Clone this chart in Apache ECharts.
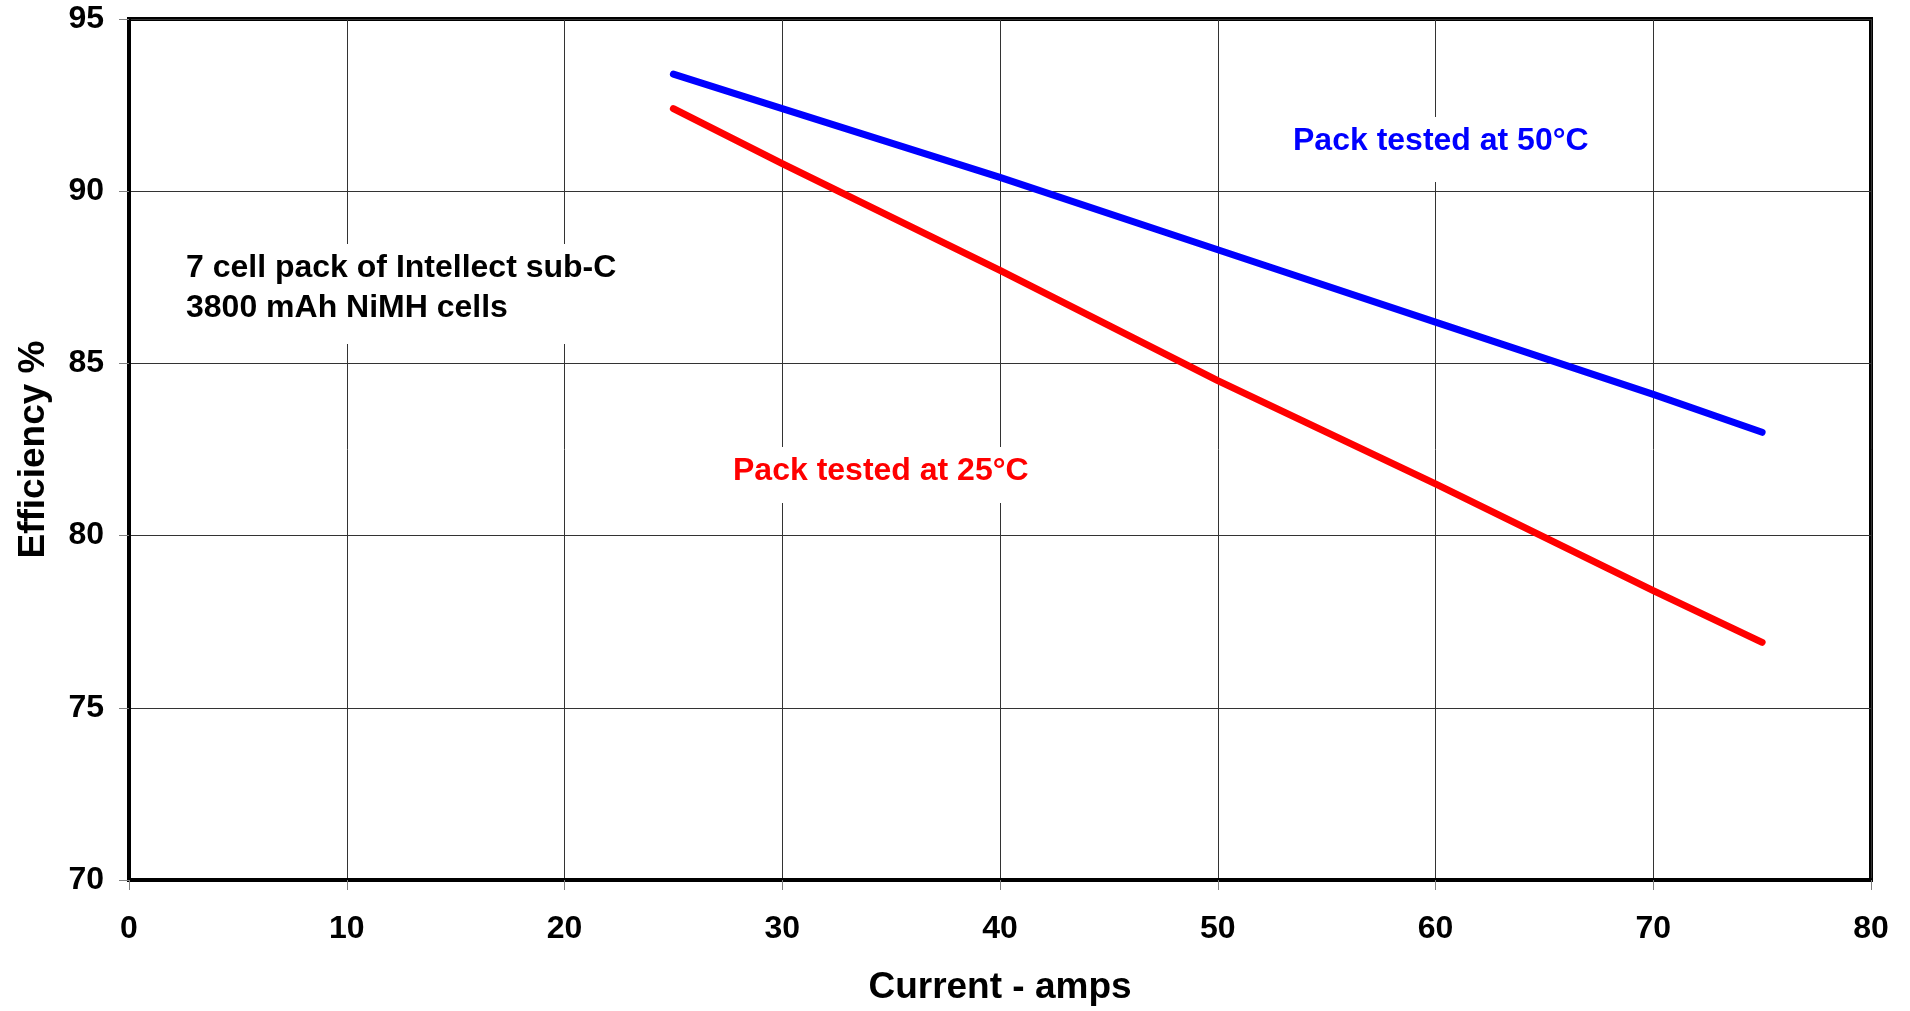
<!DOCTYPE html>
<html>
<head>
<meta charset="utf-8">
<script src="https://cdn.jsdelivr.net/npm/echarts@6/dist/echarts.min.js"></script>
<style>
html,body{margin:0;padding:0;background:#fff;}
#chart{width:1910px;height:1011px;}
</style>
</head>
<body>
<div id="chart"></div>
<script>
// Data
const currentAmps = [25, 30, 40, 50, 60, 70, 75];
const eff50C = [93.4, 92.4, 90.4, 88.3, 86.2, 84.1, 83.0];
const eff25C = [92.4, 90.8, 87.7, 84.5, 81.5, 78.4, 76.9];
const xTicks = [0, 10, 20, 30, 40, 50, 60, 70, 80];
const yTicks = [70, 75, 80, 85, 90, 95];
const seriesNames = ['Pack tested at 50°C', 'Pack tested at 25°C'];
const noteText = ['7 cell pack of Intellect sub-C', '3800 mAh NiMH cells'];

const FONT = '"Liberation Sans", Arial, sans-serif';
const chart = echarts.init(document.getElementById('chart'), null, {renderer: 'canvas'});

function pairs(xs, ys) { return xs.map((x, i) => [x, ys[i]]); }

chart.setOption({
  animation: false,
  backgroundColor: '#ffffff',
  grid: {
    left: 129, top: 19, width: 1742, height: 862,
    show: true, borderColor: '#000', borderWidth: 4, backgroundColor: 'transparent'
  },
  xAxis: {
    type: 'value', min: xTicks[0], max: xTicks[xTicks.length - 1], interval: 10,
    name: 'Current - amps', nameLocation: 'middle', nameGap: 89,
    nameTextStyle: {fontFamily: FONT, fontWeight: 'bold', fontSize: 37, color: '#000'},
    axisLine: {show: true, onZero: false, lineStyle: {color: '#000', width: 4}},
    axisTick: {show: true, length: 10, lineStyle: {color: '#808080', width: 1}},
    axisLabel: {margin: 33, fontFamily: FONT, fontWeight: 'bold', fontSize: 32, color: '#000'},
    splitLine: {show: true, lineStyle: {color: '#333', width: 1}}
  },
  yAxis: {
    type: 'value', min: yTicks[0], max: yTicks[yTicks.length - 1], interval: 5,
    name: 'Efficiency %', nameLocation: 'middle', nameGap: 77,
    nameTextStyle: {fontFamily: FONT, fontWeight: 'bold', fontSize: 37, color: '#000'},
    axisLine: {show: true, onZero: false, lineStyle: {color: '#000', width: 4}},
    axisTick: {show: true, length: 10, lineStyle: {color: '#808080', width: 1}},
    axisLabel: {margin: 25, fontFamily: FONT, fontWeight: 'bold', fontSize: 32, color: '#000'},
    splitLine: {show: true, lineStyle: {color: '#333', width: 1}}
  },
  series: [
    {
      name: seriesNames[0], type: 'line', data: pairs(currentAmps, eff50C),
      symbol: 'none', smooth: false, z: 5,
      lineStyle: {color: '#0000ff', width: 7, cap: 'round', join: 'round'}
    },
    {
      name: seriesNames[1], type: 'line', data: pairs(currentAmps, eff25C),
      symbol: 'none', smooth: false, z: 5,
      lineStyle: {color: '#ff0000', width: 7, cap: 'round', join: 'round'}
    }
  ],
  graphic: [
    {
      type: 'text', z: 10,
      style: {
        x: 176, y: 244, text: noteText.join('\n'),
        font: 'bold 32px ' + FONT, fill: '#000', lineHeight: 40,
        backgroundColor: '#fff', padding: [4, 10, 16, 10],
        align: 'left', verticalAlign: 'top'
      }
    },
    {
      type: 'text', z: 10,
      style: {
        x: 725, y: 447, text: seriesNames[1],
        font: 'bold 32px ' + FONT, fill: '#ff0000', lineHeight: 32,
        backgroundColor: '#fff', padding: [8, 8, 16, 8],
        align: 'left', verticalAlign: 'top'
      }
    },
    {
      type: 'text', z: 10,
      style: {
        x: 1285, y: 117, text: seriesNames[0],
        font: 'bold 32px ' + FONT, fill: '#0000ff', lineHeight: 32,
        backgroundColor: '#fff', padding: [8, 8, 25, 8],
        align: 'left', verticalAlign: 'top'
      }
    }
  ]
});
</script>
</body>
</html>
